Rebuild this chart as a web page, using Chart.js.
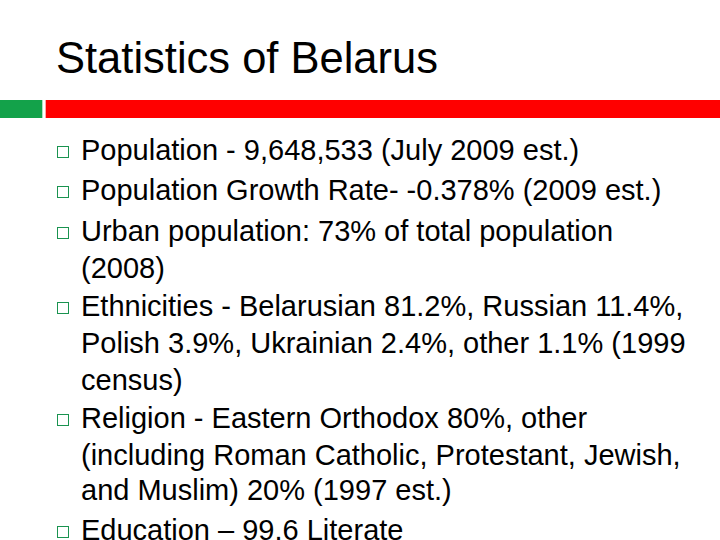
<!DOCTYPE html>
<html><head><meta charset="utf-8">
<script src="https://cdn.jsdelivr.net/npm/chart.js@4"></script>
<style>
html,body{margin:0;padding:0;width:720px;height:540px;overflow:hidden;background:#fff;font-family:"Liberation Sans",Arial,sans-serif;}
#title{position:absolute;left:56px;top:33px;font-size:43.5px;color:#000;white-space:nowrap;line-height:50px;}
#c{position:absolute;left:0;top:100px;}
.l{position:absolute;left:81px;font-size:29px;color:#000;white-space:nowrap;line-height:34px;}
.b{position:absolute;left:57px;width:10px;height:10px;border:1.5px solid #1a9350;}
</style></head><body>
<div id="title">Statistics of Belarus</div>
<canvas id="c" width="720" height="18" style="width:720px;height:18px"></canvas>
<div id="txt"></div>
<script>
const segments = ['green','gap','red'];
const segmentWidths = [42, 4, 674];
const lines = [
 ['Population - 9,648,533 (July 2009 est.)',150,true],
 ['Population Growth Rate- -0.378% (2009 est.)',190,true],
 ['Urban population: 73% of total population',231,true],
 ['(2008)',268,false],
 ['Ethnicities - Belarusian 81.2%, Russian 11.4%,',306,true],
 ['Polish 3.9%, Ukrainian 2.4%, other 1.1% (1999',343,false],
 ['census)',380,false],
 ['Religion - Eastern Orthodox 80%, other',418,true],
 ['(including Roman Catholic, Protestant, Jewish,',455,false],
 ['and Muslim) 20% (1997 est.)',490,false],
 ['Education – 99.6 Literate',530,true]
];
const t=document.getElementById('txt');
for(const [s,y,b] of lines){
 const d=document.createElement('div');d.className='l';d.style.top=(y-17)+'px';d.textContent=s;t.appendChild(d);
 if(b){const q=document.createElement('div');q.className='b';q.style.top=(y-4)+'px';t.appendChild(q);}
}
const colors=['#13a24a','rgba(0,0,0,0)','#ff0000'];
new Chart(document.getElementById('c'),{type:'bar',
 data:{labels:[''],datasets:segments.map((n,i)=>({label:n,data:[segmentWidths[i]],backgroundColor:colors[i],barPercentage:1,categoryPercentage:1,borderWidth:0}))},
 options:{indexAxis:'y',responsive:false,animation:false,maintainAspectRatio:false,devicePixelRatio:1,
  layout:{padding:0},
  plugins:{legend:{display:false},tooltip:{enabled:false}},
  scales:{x:{stacked:true,display:false,min:0,max:720},y:{stacked:true,display:false}}}
});
</script>
</body></html>
